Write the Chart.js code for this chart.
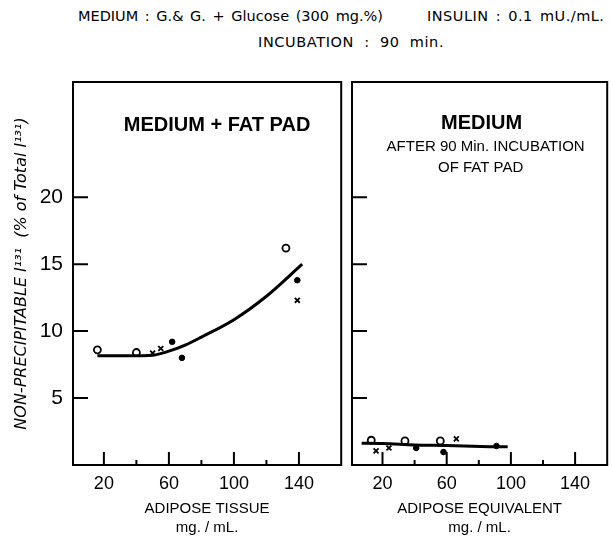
<!DOCTYPE html>
<html>
<head>
<meta charset="utf-8">
<script src="https://cdn.jsdelivr.net/npm/chart.js@4/dist/chart.umd.min.js"></script>
<style>
  body { margin: 0; background: #fff; }
  #wrap { position: relative; width: 613px; height: 538px; overflow: hidden; font-family: "DejaVu Sans", sans-serif; color: #000; }
  .note { position: absolute; font-size: 14.5px; white-space: nowrap; line-height: 1; }
  canvas { position: absolute; top: 0; }
</style>
</head>
<body>
<div id="wrap">
  <div class="note" style="left:78px; top:9px; word-spacing:2px;">MEDIUM : G.&amp; G. + Glucose (300 mg.%)</div>
  <div class="note" style="left:427px; top:9px; letter-spacing:0.5px; word-spacing:2px;">INSULIN : 0.1 mU./mL.</div>
  <div class="note" style="left:258px; top:35px; letter-spacing:0.6px; word-spacing:5px;">INCUBATION : 90 min.</div>
  <canvas id="tissue" width="347" height="538" style="left:0"></canvas>
  <canvas id="medium" width="268" height="538" style="left:345px"></canvas>
</div>
<script>
// left panel: medium + fat pad
const tissueCurveX = [16, 35, 50, 60, 70, 80, 100, 120, 142];
const tissueCurveY = [8.15, 8.15, 8.2, 8.5, 8.95, 9.55, 10.85, 12.6, 15.0];
const tissueOpenX = [16, 40, 132];
const tissueOpenY = [8.6, 8.4, 16.2];
const tissueDotX = [62, 68, 139];
const tissueDotY = [9.2, 8.0, 13.8];
const tissueCrossX = [50, 55, 139];
const tissueCrossY = [8.35, 8.7, 12.3];

// right panel: medium after incubation
const mediumCurveX = [7, 20, 40, 60, 87, 98];
const mediumCurveY = [1.62, 1.6, 1.5, 1.45, 1.37, 1.36];
const mediumOpenX = [13, 34, 56];
const mediumOpenY = [1.85, 1.8, 1.8];
const mediumDotX = [41, 58, 91];
const mediumDotY = [1.27, 0.97, 1.42];
const mediumCrossX = [16, 24, 66];
const mediumCrossY = [1.05, 1.27, 1.95];

const xTicks = [20, 40, 60, 80, 100, 120, 140];
const xLabelled = [20, 60, 100, 140];
const yTicks = [5, 10, 15, 20];

const FONT = '"Liberation Sans", Arial, sans-serif';
const WIDE = '"DejaVu Sans", sans-serif';

function pts(xs, ys) {
    return xs.map((x, i) => ({ x: x, y: ys[i] }));
}

function seriesFor(curveX, curveY, openX, openY, dotX, dotY, crossX, crossY) {
    return [
        {
            data: pts(curveX, curveY), showLine: true, borderColor: '#000', borderWidth: 3,
            pointRadius: 0, tension: 0.4, cubicInterpolationMode: 'monotone'
        },
        {
            data: pts(openX, openY), pointStyle: 'circle', pointRadius: 3.5,
            pointBorderWidth: 1.8, borderColor: '#000', backgroundColor: '#fff'
        },
        {
            data: pts(dotX, dotY), pointStyle: 'circle', pointRadius: 2.8,
            borderColor: '#000', backgroundColor: '#000'
        },
        {
            data: pts(crossX, crossY), pointStyle: 'crossRot', pointRadius: 3.5,
            pointBorderWidth: 1.8, borderColor: '#000'
        }
    ];
}

const frameTicks = {
    id: 'frameTicks',
    afterDraw(chart) {
        const { ctx, chartArea: a, scales: { x, y } } = chart;
        ctx.save();
        ctx.strokeStyle = '#000';
        ctx.lineWidth = 2;
        ctx.strokeRect(a.left, a.top, a.right - a.left, a.bottom - a.top);
        ctx.beginPath();
        y.ticks.forEach(t => {
            const py = y.getPixelForValue(t.value);
            ctx.moveTo(a.left, py);
            ctx.lineTo(a.left + 15, py);
        });
        x.ticks.forEach(t => {
            const px = x.getPixelForValue(t.value);
            const len = xLabelled.includes(t.value) ? 13 : 5;
            ctx.moveTo(px, a.bottom);
            ctx.lineTo(px, a.bottom - len);
        });
        ctx.stroke();

        const notes = chart.options.plugins.frameTicks.notes || [];
        ctx.fillStyle = '#000';
        ctx.textAlign = 'center';
        ctx.textBaseline = 'middle';
        const cx = (a.left + a.right) / 2;
        notes.forEach(n => {
            ctx.font = n.font;
            ctx.fillText(n.text, cx + n.dx, a.top + n.dy);
        });
        ctx.restore();
    }
};

function makePanel(id, opts) {
    return new Chart(document.getElementById(id), {
        type: 'scatter',
        data: { datasets: opts.datasets },
        plugins: [frameTicks],
        options: {
            responsive: false,
            animation: false,
            layout: { padding: opts.padding },
            plugins: {
                legend: { display: false },
                tooltip: { enabled: false },
                frameTicks: { notes: opts.notes }
            },
            scales: {
                x: {
                    type: 'linear',
                    min: 1,
                    max: opts.xMax,
                    afterBuildTicks: s => { s.ticks = xTicks.map(v => ({ value: v })); },
                    afterFit: s => { s.height = 73; },
                    grid: { display: false, drawTicks: false },
                    border: { display: false },
                    ticks: {
                        color: '#000', padding: 8,
                        font: { family: FONT, size: 18 },
                        callback: v => xLabelled.includes(v) ? String(v) : ''
                    },
                    title: {
                        display: true, text: opts.xTitle, color: '#000',
                        font: { family: FONT, size: 15, lineHeight: 1.3 },
                        padding: { top: 4, bottom: 0 }
                    }
                },
                y: {
                    type: 'linear',
                    min: 0,
                    max: 28.6,
                    afterBuildTicks: s => { s.ticks = yTicks.map(v => ({ value: v })); },
                    afterFit: s => { s.width = opts.yWidth; },
                    grid: { display: false, drawTicks: false },
                    border: { display: false },
                    ticks: {
                        display: opts.yLabels, color: '#000', padding: 10,
                        font: { family: FONT, size: 21 }
                    },
                    title: {
                        display: opts.yLabels,
                        text: 'NON-PRECIPITABLE I¹³¹  (% of Total I¹³¹)',
                        color: '#000',
                        font: { family: WIDE, size: 16, style: 'italic' },
                        padding: { top: 6, bottom: 0 }
                    }
                }
            }
        }
    });
}

makePanel('tissue', {
    datasets: seriesFor(tissueCurveX, tissueCurveY, tissueOpenX, tissueOpenY,
        tissueDotX, tissueDotY, tissueCrossX, tissueCrossY),
    padding: { left: 6, right: 4, top: 82, bottom: 0 },
    xMax: 166,
    xTitle: ['ADIPOSE TISSUE', 'mg. / mL.'],
    yWidth: 67,
    yLabels: true,
    notes: [
        { text: 'MEDIUM + FAT PAD', dx: 10, dy: 43, font: 'bold 20px ' + FONT }
    ]
});

makePanel('medium', {
    datasets: seriesFor(mediumCurveX, mediumCurveY, mediumOpenX, mediumOpenY,
        mediumDotX, mediumDotY, mediumCrossX, mediumCrossY),
    padding: { left: 7, right: 3, top: 82, bottom: 0 },
    xMax: 160,
    xTitle: ['ADIPOSE EQUIVALENT', 'mg. / mL.'],
    yWidth: 0,
    yLabels: false,
    notes: [
        { text: 'MEDIUM', dx: 2, dy: 41, font: 'bold 20px ' + FONT },
        { text: 'AFTER 90 Min. INCUBATION', dx: 6, dy: 65, font: '15px ' + FONT },
        { text: 'OF FAT PAD', dx: 1, dy: 86, font: '15px ' + FONT }
    ]
});
</script>
</body>
</html>
